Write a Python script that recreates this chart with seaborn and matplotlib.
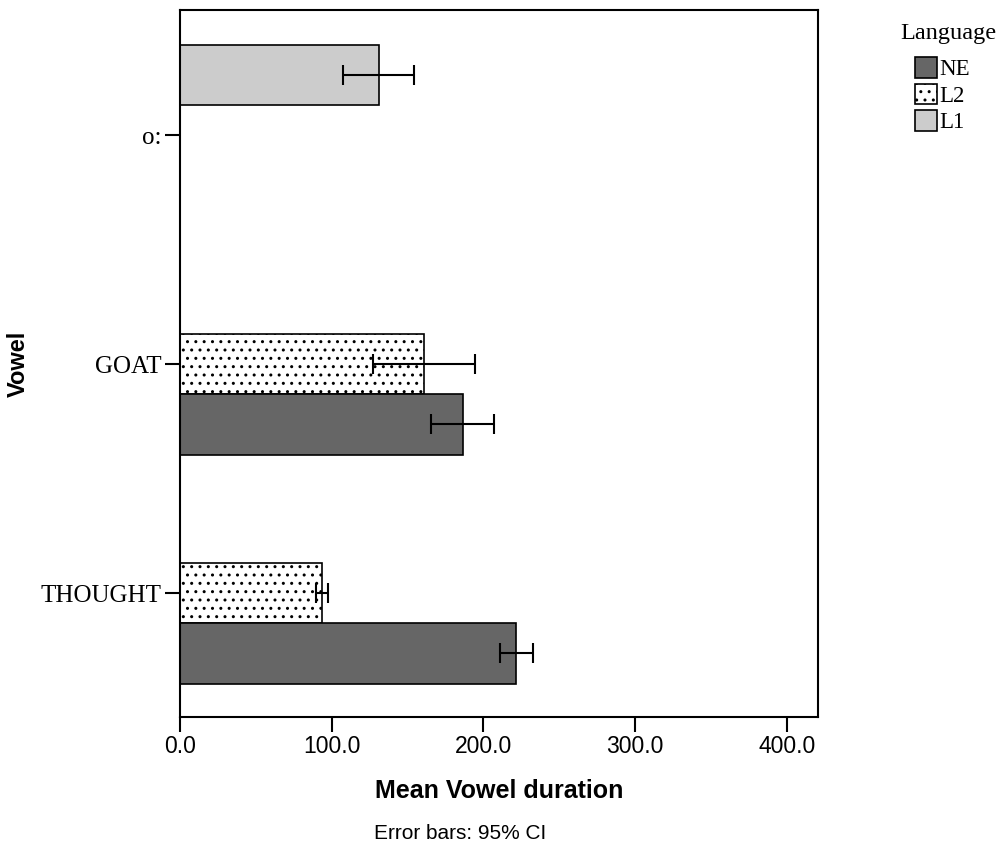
import numpy as np
import pandas as pd
import matplotlib
matplotlib.use("Agg")
import matplotlib.pyplot as plt
from matplotlib.patches import Patch
import seaborn as sns

# data
vowels = ["o:", "GOAT", "GOAT", "THOUGHT", "THOUGHT"]
languages = ["L1", "L2", "NE", "L2", "NE"]
mean_duration = [130.9, 160.6, 186.3, 93.3, 221.3]
ci_low = [107.2, 127.0, 165.2, 89.4, 210.8]
ci_high = [154.0, 194.3, 206.8, 97.3, 232.5]

vowel_order = ["o:", "GOAT", "THOUGHT"]
hue_order = ["L1", "L2", "NE"]
legend_order = ["NE", "L2", "L1"]
colors = {"NE": "#666666", "L2": "#ffffff", "L1": "#cccccc"}
x_ticks = [0, 100, 200, 300, 400]

df = pd.DataFrame({
    "vowel": vowels,
    "language": languages,
    "duration": mean_duration,
    "lo": ci_low,
    "hi": ci_high,
})

sns.set_style("white")
serif = ["Liberation Serif", "DejaVu Serif"]
sans = ["Liberation Sans", "DejaVu Sans"]
plt.rcParams["font.family"] = sans
plt.rcParams["text.color"] = "black"
plt.rcParams["axes.labelcolor"] = "black"
plt.rcParams["xtick.color"] = "black"
plt.rcParams["ytick.color"] = "black"
plt.rcParams["hatch.linewidth"] = 1.0
plt.rcParams["hatch.color"] = "#222222"
HATCH = ".."

fig = plt.figure(figsize=(10, 8.47), dpi=100)
ax = fig.add_axes([0.180, 0.1535, 0.638, 0.8347])

sns.barplot(data=df, x="duration", y="vowel", hue="language",
            order=vowel_order, hue_order=hue_order, palette=colors,
            orient="h", errorbar=None, width=0.79, dodge=True,
            edgecolor="black", linewidth=1.2, saturation=1, ax=ax)

# hatch the L2 bars and add the CI whiskers
for bar in ax.patches:
    w = bar.get_width()
    if w <= 0 or np.isnan(w):
        continue
    row = df[np.isclose(df["duration"], w)].iloc[0]
    if row["language"] == "L2":
        bar.set_hatch(HATCH)
    yc = bar.get_y() + bar.get_height() / 2
    ax.errorbar(w, yc, xerr=[[w - row["lo"]], [row["hi"] - w]],
                fmt="none", ecolor="black", elinewidth=1.5,
                capsize=7, capthick=1.5, zorder=5)

if ax.get_legend() is not None:
    ax.get_legend().remove()

ax.set_xlim(0, 420.5)
ax.set_ylim(2.541, -0.546)
ax.set_xticks(x_ticks)
ax.set_xticklabels([f"{t:.1f}" for t in x_ticks], fontsize=16.5)
ax.set_yticks(range(len(vowel_order)))
ax.set_yticklabels(vowel_order, fontsize=18, family=serif)
ax.tick_params(axis="both", which="major", direction="out", length=11,
               width=1.5, color="black", left=True, bottom=True, pad=2)
for s in ax.spines.values():
    s.set_visible(True)
    s.set_color("black")
    s.set_linewidth(1.5)

ax.set_xlabel("Mean Vowel duration", fontsize=18, fontweight="bold")
ax.set_ylabel("Vowel", fontsize=17, fontweight="bold")
ax.xaxis.set_label_coords(0.5, -0.088)
ax.yaxis.set_label_coords(-0.236, 0.5)

fig.text(0.46, 0.0165, "Error bars: 95% CI", fontsize=15, ha="center",
         va="center")

# legend, title drawn separately to get the wider gap below it
fig.text(0.948, 1 - 33 / 847, "Language", family=serif, fontsize=17.5,
         ha="center", va="center")
handles = [Patch(facecolor=colors[l], edgecolor="black", linewidth=1.2,
                 hatch=HATCH if l == "L2" else None) for l in legend_order]
fig.legend(handles, legend_order, loc="upper left",
           bbox_to_anchor=(0.915, 1 - 57 / 847), frameon=False,
           prop={"family": serif, "size": 16.5},
           handlelength=0.95, handleheight=1.0, handletextpad=0.12,
           labelspacing=0.15, borderpad=0, borderaxespad=0)

fig.savefig("out.png", dpi=100)
